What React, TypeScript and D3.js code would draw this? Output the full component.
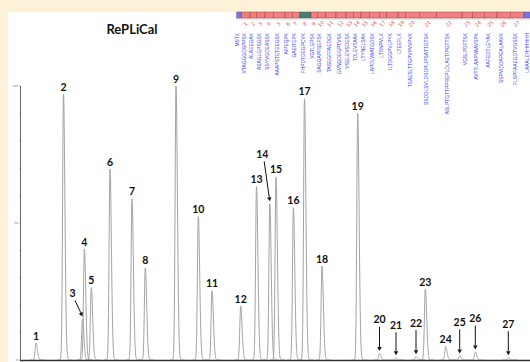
import React from 'react';
import * as d3 from 'd3';

// ---- data ----
const peakIds = ['1','2','3','4','5','6','7','8','9','10','11','12','13','14','15','16','17','18','19','20','21','22','23','24','25','26','27'];
const retentionTimes = [1.6,4.35,6.25,6.44,7.13,9.0,11.2,12.53,15.6,17.83,19.2,22.07,23.65,24.98,25.6,27.34,28.45,30.2,33.77,35.95,37.6,39.6,40.53,42.57,43.97,45.53,48.83];
const intensities = [6.2,97,15,40.5,26.4,69.7,58.8,33.6,100,52.3,25.3,19.7,63.3,57,66.8,55.5,95.3,34.3,90,2.4,0.8,1.2,25.8,4.9,1.5,2.9,0.8];
const yTicks = [0, 50, 100];

const peptides = ['MSTK','VTAGGGDSPPSK','ALAEEGAK','ASAGLGPSGSK','SSYVGDEASSK','AAAPSTETEEGSK','AIPEQPK','GAEITEPK','FHPDTDEGPCVK','VGTLEPSK','SAGGAPFSEFSK','TASEGFFAEDGK','GVNGDEGPTVSK','VSELEVSDESK','TDLEVTAAK','LTYNELSAK','LAPDLVAATGDSK','LTSNPVLK','ILTDGGPVLPYK','LTEEFLK','TEAESLTTGPVPVVPVK','SSDDLSVLDSDPLIPSATTGTSK','ASLPTGTTPPREPLDLAETIPGTTSK','VGSLPDFTSK','AVTTLAAPVAAVSPK','AAFEDTLEYAK','SSPVIDDAPEALAAVK','FLSPFAAEGDTVGSSK','LAAALEHHHHHH'];
const segmentSpan = [5,8.3,6.7,8.3,8.3,11.7,7.3,7,11.7,6.3,8.4,10.3,10,7.3,7.7,8.3,10,7.4,11.3,7.3,14,17.4,25.3,10.7,11.6,12.7,13.3,13.7,10];
const segmentKind = ['tag','pep','pep','pep','pep','pep','pep','pep','ref','pep','pep','pep','pep','pep','pep','pep','pep','pep','pep','pep','pep','pep','pep','pep','pep','pep','pep','pep','tag'];

// label layout for arrowed annotations (offset of label centre from apex)
const arrowLabels: Record<string, { dx: number; dy: number }> = {
  '3': { dx: -10, dy: -26 },
  '14': { dx: -7.5, dy: -50 },
  '20': { dx: 0, dy: -34 },
  '21': { dx: 0, dy: -33 },
  '22': { dx: 0, dy: -34 },
  '25': { dx: 0, dy: -34 },
  '26': { dx: 0, dy: -34 },
  '27': { dx: 0, dy: -34 },
};

const W = 530, H = 362;

export default function App() {
  const x = d3.scaleLinear().domain([0, 51]).range([20, 530]);
  const y = d3.scaleLinear().domain([0, 100]).range([360, 86]);

  const line = d3.line<[number, number]>().x(d => x(d[0])).y(d => y(d[1]));
  const peakPath = (rt: number, h: number) => {
    const pts: [number, number][] = [];
    for (let t = rt - 0.6; t <= rt + 0.9; t += 0.01) {
      const s = t < rt ? 0.09 : 0.14;
      pts.push([t, h * Math.exp(-0.5 * ((t - rt) / s) ** 2)]);
    }
    return line(pts) || '';
  };

  const cum: number[] = [];
  segmentSpan.reduce((a, v) => { cum.push(a); return a + v; }, 0);
  const total = segmentSpan.slice(0, 28).reduce((a, b) => a + b, 0);
  const sx = d3.scaleLinear().domain([0, total]).range([236.7, 524]);
  const segColor = (k: string) => (k === 'tag' ? '#7474e8' : k === 'ref' ? '#3f8273' : '#f27f7f');

  const labelFont = 'Lato, "Open Sans", sans-serif';

  return (
    <div style={{ position: 'fixed', left: 0, top: 0 }}>
      <svg width={W} height={H} style={{ display: 'block' }}>
        <rect x={0} y={0} width={W} height={H} fill="#fdf2d8" />
        <rect x={8} y={12} width={W - 8} height={H - 12} fill="#ffffff" />
        <text x={132} y={34} textAnchor="middle" fontFamily={labelFont} fontWeight={700} fontSize={13} fill="#111">RePLiCal</text>

        {/* sequence bar */}
        <line x1={236} x2={530} y1={19} y2={19} stroke="#cfcfcf" strokeWidth={1} />
        {segmentSpan.map((s, i) => (
          <rect key={'seg' + i} x={sx(cum[i])} y={12} width={sx(cum[i] + s) - sx(cum[i])} height={6}
            fill={segColor(segmentKind[i])} stroke="#8a3c3c" strokeWidth={0.6} strokeOpacity={0.7} />
        ))}
        {peptides.map((p, i) => {
          const cx = (sx(cum[i]) + sx(cum[i] + segmentSpan[i])) / 2 - 0.3;
          return (
            <g key={'pep' + i}>
              {i > 0 && i < 28 && (
                <text x={cx} y={25.5} fontSize={5} fontFamily="DejaVu Sans, sans-serif" fill="#f04848"
                  textAnchor="middle" transform={`rotate(-45 ${cx} ${24})`}>{String(i)}</text>
              )}
              <text x={cx} y={33} fontSize={4.9} fontFamily="Liberation Sans, sans-serif" fill="#3a3af0"
                textAnchor="end" transform={`rotate(-90 ${cx} 33)`}>{p}</text>
            </g>
          );
        })}

        {/* axes */}
        <line x1={x(0) + 0.5} x2={x(0) + 0.5} y1={y(100)} y2={y(0)} stroke="#666" strokeWidth={1} />
        {d3.range(0, 101, 10).map(v => (
          <line key={'mt' + v} x1={x(0) - 1} x2={x(0) + 0.5} y1={y(v)} y2={y(v)} stroke="#888" strokeWidth={0.6} />
        ))}
        {yTicks.map(v => (
          <text key={'yt' + v} x={x(0) - 2} y={y(v) + 1} textAnchor="end" fontSize={3.2} fontFamily="DejaVu Sans, sans-serif" fill="#777">{v}</text>
        ))}

        {/* peaks */}
        {retentionTimes.map((rt, i) => (
          <path key={'pk' + i} d={peakPath(rt, intensities[i])} fill="none" stroke="#a3a3a3" strokeWidth={1} />
        ))}
        <line x1={x(0)} x2={530} y1={y(0) + 0.5} y2={y(0) + 0.5} stroke="#333" strokeWidth={1.5} />

        {/* labels */}
        {peakIds.map((id, i) => {
          const px = x(retentionTimes[i]);
          const py = y(intensities[i]);
          const a = arrowLabels[id];
          if (!a) {
            return (
              <text key={'lb' + i} x={px} y={py - 7.5} dominantBaseline="central" textAnchor="middle"
                fontFamily={labelFont} fontWeight={700} fontSize={10.5} fill="#111">{id}</text>
            );
          }
          const lx = px + a.dx, ly = py + a.dy;
          const sxA = lx + a.dx * -0.25, syA = ly + 7.5;
          const ex = px, ey = py - 2.5;
          const ang = Math.atan2(ey - syA, ex - sxA);
          const hl = 4, hw = 2.2;
          const bx = ex - hl * Math.cos(ang), by = ey - hl * Math.sin(ang);
          const p1 = [bx + hw * Math.sin(ang), by - hw * Math.cos(ang)];
          const p2 = [bx - hw * Math.sin(ang), by + hw * Math.cos(ang)];
          return (
            <g key={'lb' + i}>
              <text x={lx} y={ly} dominantBaseline="central" textAnchor="middle"
                fontFamily={labelFont} fontWeight={700} fontSize={10.5} fill="#111">{id}</text>
              <line x1={sxA} y1={syA} x2={bx} y2={by} stroke="#111" strokeWidth={1} />
              <polygon points={`${ex},${ey} ${p1[0]},${p1[1]} ${p2[0]},${p2[1]}`} fill="#111" />
            </g>
          );
        })}
      </svg>
    </div>
  );
}
